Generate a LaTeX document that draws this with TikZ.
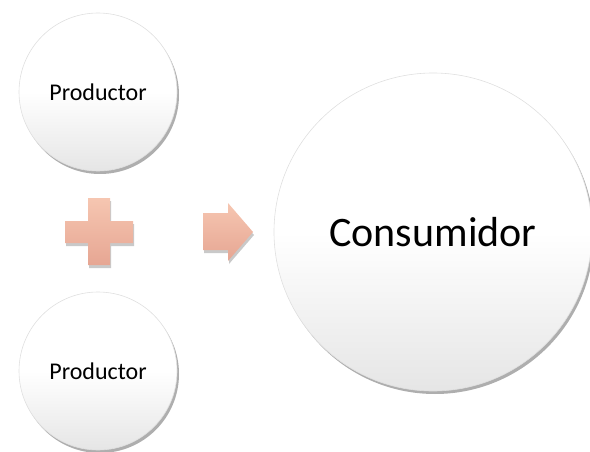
\documentclass[tikz,border=0pt]{standalone}
\usepackage{fontspec}
\setmainfont{Carlito}
\usepackage{tikz}
\usetikzlibrary{shadows}
\definecolor{salmonTop}{HTML}{F6C6B1}
\definecolor{salmonBot}{HTML}{E6A693}
\tikzset{
    circ/.style={circle, inner sep=0pt, draw=black!12, line width=0.6pt,
        top color=white, bottom color=gray!20, middle color=white,
        drop shadow={shadow xshift=2pt, shadow yshift=-3pt, opacity=0.45, fill=black!70}},
    sign/.style={top color=salmonTop, bottom color=salmonBot,
        drop shadow={shadow xshift=1pt, shadow yshift=-3pt, opacity=0.3, fill=black!70}},
}
\begin{document}
\begin{tikzpicture}[x=1pt, y=-1pt]

    \useasboundingbox (0,0) rectangle (590,452);

    \node[circ, minimum size=158pt] (prodA) at (98,92) {\fontsize{24}{28}\selectfont Productor};
    \node[circ, minimum size=158pt] (prodB) at (98,371) {\fontsize{24}{28}\selectfont Productor};
    \node[circ, minimum size=318pt] (cons) at (433,232) {\fontsize{42}{48}\selectfont Consumidor};

    % plus sign
    \path[sign] (88,198) -- (110,198) -- (110,221) -- (133,221) -- (133,243) -- (110,243)
        -- (110,265) -- (88,265) -- (88,243) -- (65,243) -- (65,221) -- (88,221) -- cycle;

    % arrow
    \path[sign] (203,213) -- (228,213) -- (228,203) -- (253,232) -- (228,261)
        -- (228,250) -- (203,250) -- cycle;

\end{tikzpicture}
\end{document}
